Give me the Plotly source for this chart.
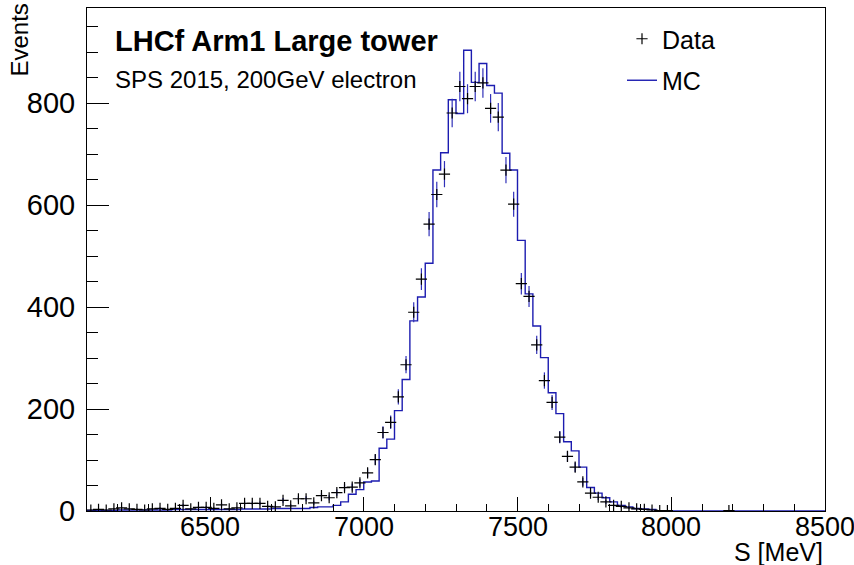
import numpy as np
import plotly.graph_objects as go

# ---------------- data ----------------
bin_start = 6100
bin_width = 25
n_bins = 96  # 6100 .. 8500

# Data counts per 25 MeV bin (bin centres 6112.5 ... ), None = empty bin
data_counts = [
    2, 3, 2, 4, 6, 4, 3, 2, 4, 5, 3, 5,            # 6100-6400
    11, 4, 7, 7, 5, 12, 4, 6, 15, 15, 15, 9,       # 6400-6700
    8, 21, 10, 24, 24, 16, 30, 26, 36, 46, 47, 55, # 6700-7000
    75, 101, 154, 174, 224, 287, 390, 455, 563, 621, 661, 781,   # 7000-7300
    833, 809, 833, 840, 790, 773, 669, 602, 446, 421, 326, 256,  # 7300-7600
    213, 145, 107, 86, 57, 35, 27, 18, 11, 9, 6, 4,              # 7600-7900
    3, 2, 1, 1, None, None, None, None, None, None, None, 1,     # 7900-8200
    None, None, None, None, None, None, None, None, None, None, None, None,  # 8200-8500
]

# MC histogram contents per 25 MeV bin (left edges 6100 ... 8475)
mc_counts = [
    1, 1, 1, 1, 2, 2, 2, 2, 2, 2, 2, 3,            # 6100-6400
    3, 3, 3, 3, 3, 3, 3, 3, 4, 4, 4, 4,            # 6400-6700
    5, 5, 5, 5, 5, 7, 8, 8, 11, 18, 33, 42,        # 6700-7000
    57, 59, 123, 141, 197, 258, 373, 420, 486, 669, 703, 807,    # 7000-7300
    780, 904, 841, 878, 835, 820, 702, 669, 531, 426, 363, 301,  # 7300-7600
    232, 191, 136, 118, 86, 46, 35, 26, 18, 11, 8, 5,            # 7600-7900
    4, 3, 0, 0, 0, 0, 0, 0, 0, 0, 0, 0,                          # 7900-8200
    0, 0, 0, 0, 0, 0, 0, 0, 0, 0, 0, 0,                          # 8200-8500
]

x_tick_vals = [6500, 7000, 7500, 8000, 8500]
y_tick_vals = [0, 200, 400, 600, 800]

# ---------------- derived ----------------
edges = bin_start + bin_width * np.arange(n_bins + 1)
centres = edges[:-1] + bin_width / 2.0

data_x = [c for c, v in zip(centres, data_counts) if v is not None]
data_y = [v for v in data_counts if v is not None]
data_err = [float(np.sqrt(v)) for v in data_y]

mc_x = list(edges)
mc_y = list(mc_counts) + [mc_counts[-1]]

FONT = "Liberation Sans"
MC_COLOR = "#1c1cb0"

fig = go.Figure()

fig.add_trace(go.Scatter(
    x=mc_x, y=mc_y, mode="lines", line=dict(shape="hv", color=MC_COLOR, width=1.4),
    name="MC", legendrank=2, legendgroup="mc",
))

fig.add_trace(go.Scatter(
    x=data_x, y=data_y, mode="markers", name="Data", legendrank=1, legendgroup="data",
    marker=dict(symbol="cross-thin", size=8, color="black",
                line=dict(color="black", width=1.2)),
    error_y=dict(type="data", array=data_err, visible=True,
                 color="#3030b8", thickness=1.2, width=0),
))

fig.update_layout(
    width=854, height=565,
    margin=dict(l=87, r=29, t=8, b=54, autoexpand=False),
    paper_bgcolor="white", plot_bgcolor="white",
    font=dict(family=FONT, size=24, color="black"),
    showlegend=True,
    legend=dict(x=(622 - 87) / 738, y=(511 - 16) / 503, xanchor="left", yanchor="top",
                bgcolor="rgba(0,0,0,0)", font=dict(size=25),
                traceorder="grouped", tracegroupgap=6, itemwidth=30),
)

fig.update_xaxes(
    range=[6100, 8500], tickvals=x_tick_vals, showticklabels=False,
    ticks="inside", ticklen=14, tickcolor="black", tickwidth=1,
    minor=dict(dtick=100, tick0=6100, ticks="inside", ticklen=7, tickcolor="black", tickwidth=1),
    showline=True, linecolor="black", linewidth=1, mirror=True, automargin=False,
    showgrid=False, zeroline=False,
)
fig.update_yaxes(
    range=[0, 987], tickvals=y_tick_vals, ticktext=[str(v) for v in y_tick_vals],
    ticks="inside", ticklen=22, tickcolor="black", tickwidth=1,
    minor=dict(dtick=50, tick0=0, ticks="inside", ticklen=11, tickcolor="black", tickwidth=1),
    showline=True, linecolor="black", linewidth=1, mirror=True, automargin=False,
    showgrid=False, zeroline=False, tickfont=dict(size=29), ticklabelstandoff=5,
)

# x tick labels placed just below the axis (ROOT style)
for v in x_tick_vals:
    fig.add_annotation(text=str(v), xref="x", yref="paper", x=v, y=(511 - 527) / 503,
                       xanchor="center", yanchor="middle", showarrow=False,
                       font=dict(size=27, family=FONT))

fig.add_annotation(text="<b>LHCf Arm1 Large tower</b>", xref="paper", yref="paper",
                   x=(113 - 87) / 738, y=(511 - 41) / 503, xanchor="left", yanchor="middle",
                   showarrow=False, font=dict(size=29, family=FONT))
fig.add_annotation(text="SPS 2015, 200GeV electron", xref="paper", yref="paper",
                   x=(113 - 87) / 738, y=(511 - 79.5) / 503, xanchor="left", yanchor="middle",
                   showarrow=False, font=dict(size=24, family=FONT))
fig.add_annotation(text="Events", xref="paper", yref="paper", textangle=-90,
                   x=(18.5 - 87) / 738, y=(511 - 40) / 503, xanchor="center", yanchor="middle",
                   showarrow=False, font=dict(size=24, family=FONT))
fig.add_annotation(text="S [MeV]", xref="paper", yref="paper",
                   x=1.0, y=(511 - 552) / 503, xanchor="right", yanchor="middle",
                   showarrow=False, font=dict(size=25, family=FONT))

fig.write_html("out.html", config={"displayModeBar": False},
               post_script="document.body.style.margin='0px';")
